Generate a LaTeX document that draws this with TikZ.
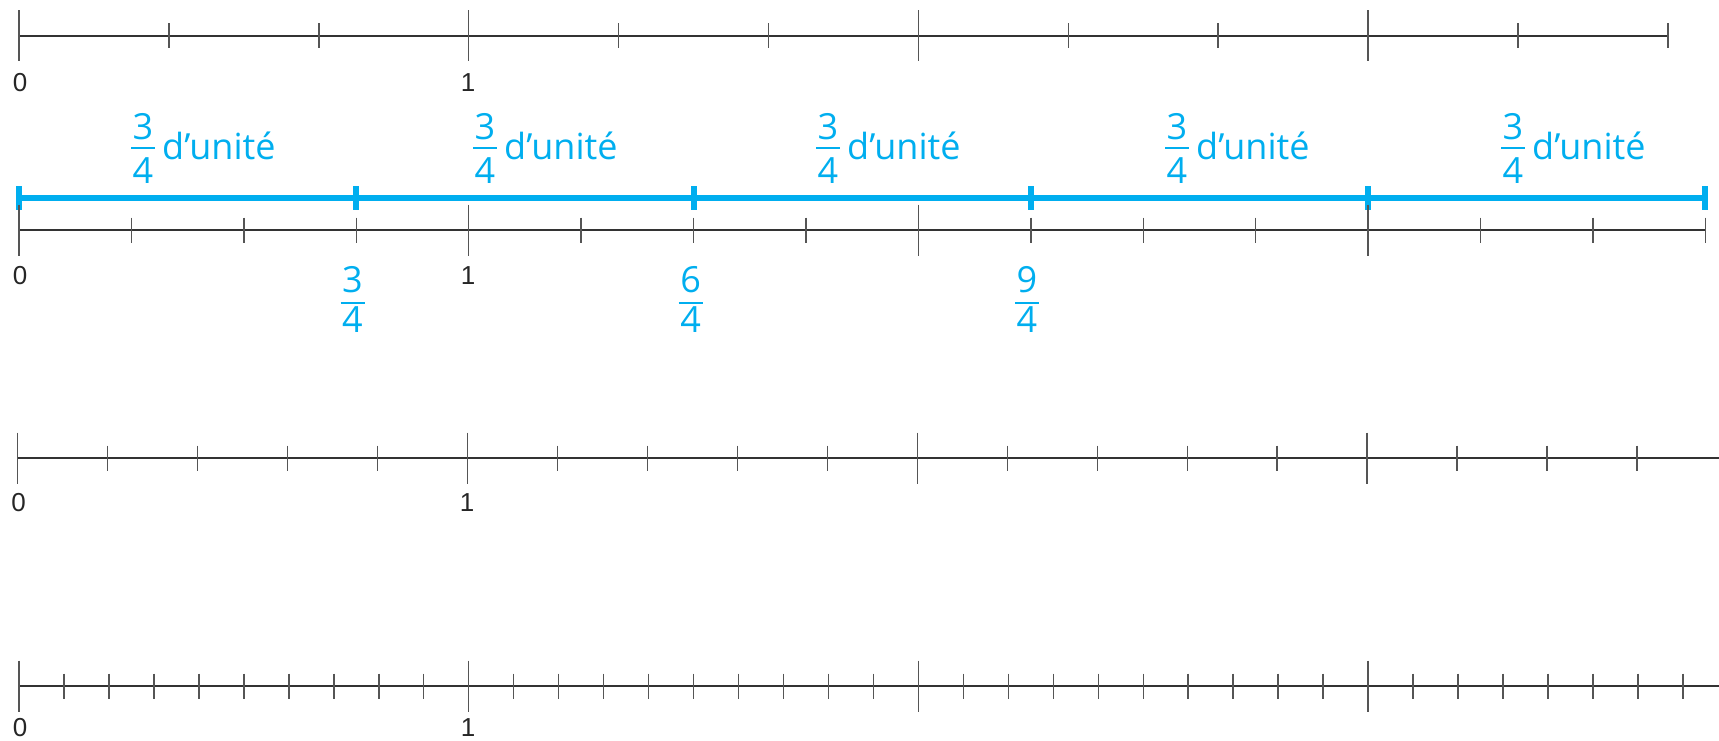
\documentclass[tikz,border=0pt]{standalone}
\usepackage{fontspec}
\setmainfont{Liberation Sans}
\newfontfamily\bluefont{Open Sans}
\definecolor{cy}{HTML}{00AEEF}
\definecolor{axisc}{HTML}{333333}
\definecolor{tickc}{HTML}{555555}
\begin{document}
\begin{tikzpicture}[x=1pt,y=-1pt,
  axis/.style={draw=axisc,line width=1.4pt},
  majtick/.style={draw=tickc,line width=1.5pt},
  mintick/.style={draw=tickc,line width=1.5pt},
  num/.style={font=\fontsize{26}{30}\selectfont,text=black!85,inner sep=0pt,anchor=base},
  bl/.style={font=\bluefont\fontsize{36}{42}\selectfont,text=cy,inner sep=0pt,anchor=base},
  bltxt/.style={bl,anchor=base west},
  bline/.style={draw=cy,line width=5.5pt},
  bbar/.style={draw=cy,line width=6pt},
  fbar/.style={draw=cy,line width=2pt}]
\useasboundingbox (0,0) rectangle (1719,741);

% ---------- line 1 : thirds ----------
\coordinate (a0) at (19,36);
\coordinate (a1) at (1668,36);
\draw[axis] (a0) -- (a1);
\foreach \k in {0,1,2,3} \draw[majtick] ({19+\k*449.7},10.5) -- ({19+\k*449.7},61.5);
\foreach \k in {1,2,4,5,7,8,10,11} \draw[mintick] ({19+\k*149.9},23.5) -- ({19+\k*149.9},48.5);
\node[num] (l1z) at (20,92) {0};
\node[num] (l1o) at (468,92) {1};

% ---------- blue segments ----------
\coordinate (b0) at (19,198);
\coordinate (b5) at (1705,198);
\draw[bline] (b0) -- (b5);
\foreach \k in {0,...,5} \draw[bbar] ({19+\k*337.275},186) -- ({19+\k*337.275},209.5);
\foreach \fc/\i in {143/1,485/2,828/3,1177/4,1513/5}{
  \node[bl] (tn\i) at (\fc,140) {3};
  \draw[fbar] (\fc-12,148) -- (\fc+12,148);
  \node[bl] (td\i) at (\fc,183) {4};
  \node[bltxt] (tt\i) at (\fc+19,160) {d’unité};
}

% ---------- line 2 : quarters ----------
\coordinate (c0) at (19,230);
\coordinate (c1) at (1705,230);
\draw[axis] (c0) -- (c1);
\foreach \k in {0,1,2,3} \draw[majtick] ({19+\k*449.7},204.5) -- ({19+\k*449.7},255.5);
\foreach \k in {1,2,3,5,6,7,9,10,11,13,14,15} \draw[mintick] ({19+\k*112.425},217.5) -- ({19+\k*112.425},242.5);
\node[num] (l2z) at (20,284) {0};
\node[num] (l2o) at (468,284) {1};
\foreach \fc/\n in {352.5/3,690.7/6,1027/9}{
  \node[bl] (bn\n) at (\fc,292) {\n};
  \draw[fbar] (\fc-12,302.7) -- (\fc+12,302.7);
  \node[bl] (bd\n) at (\fc,332) {4};
}

% ---------- line 3 : fifths ----------
\coordinate (d0) at (17.5,458);
\coordinate (d1) at (1719,458);
\draw[axis] (d0) -- (d1);
\foreach \k in {0,1,2,3} \draw[majtick] ({17.5+\k*449.9},432.5) -- ({17.5+\k*449.9},483.5);
\foreach \k in {1,2,3,4,6,7,8,9,11,12,13,14,16,17,18} \draw[mintick] ({17.5+\k*89.98},445.5) -- ({17.5+\k*89.98},470.5);
\node[num] (l3z) at (18.5,511.7) {0};
\node[num] (l3o) at (467,511.7) {1};

% ---------- line 4 : tenths ----------
\coordinate (e0) at (19,686);
\coordinate (e1) at (1719,686);
\draw[axis] (e0) -- (e1);
\foreach \k in {0,1,2,3} \draw[majtick] ({19+\k*449.7},660.5) -- ({19+\k*449.7},711.5);
\foreach \k in {1,...,9,11,12,...,19,21,22,...,29,31,32,...,37} \draw[mintick] ({19+\k*44.97},673.5) -- ({19+\k*44.97},698.5);
\node[num] (l4z) at (20,736.5) {0};
\node[num] (l4o) at (468,736.5) {1};
\end{tikzpicture}
\end{document}
